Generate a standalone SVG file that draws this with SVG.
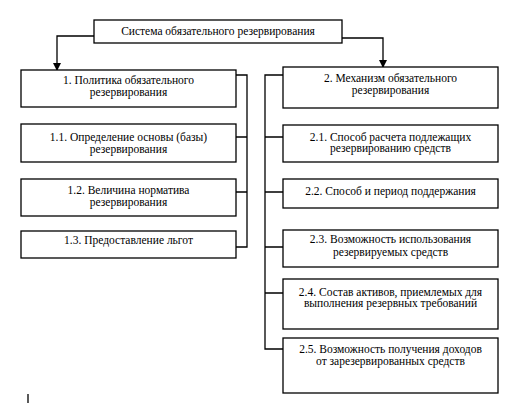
<svg xmlns="http://www.w3.org/2000/svg" width="518" height="403" viewBox="0 0 518 403">
<defs>
<marker id="arr" markerWidth="8" markerHeight="8" refX="7" refY="4" orient="auto" markerUnits="userSpaceOnUse">
<path d="M0,0 L8,4 L0,8 Z" fill="#000"/>
</marker>
<style>
.box{fill:#fff;stroke:#000;stroke-width:1.3}
.ln{fill:none;stroke:#000;stroke-width:1.3}
text{font-size:11.5px;fill:#000;text-anchor:middle}
</style>
</defs>
<rect width="518" height="403" fill="#fff"/>
<g id="connectors">
<path class="ln" d="M94,36 H57 V70" marker-end="url(#arr)"/>
<path class="ln" d="M342,38 H383 V67" marker-end="url(#arr)"/>
<path class="ln" d="M236,75 H247 V247 H236 M236,137 H247 M236,192 H247"/>
<path class="ln" d="M283,75 H265 V349 H283 M265,137 H283 M265,192 H283 M265,247 H283 M265,293 H283"/>
<path class="ln" d="M28,394 V403" stroke-width="2"/>
</g>
<g font-family="Liberation Serif, DejaVu Serif, serif">
<g id="root"><rect class="box" x="94" y="20" width="248" height="23"/><text x="218" y="35">Система обязательного резервирования</text></g>
<g id="n1"><rect class="box" x="21" y="70" width="215" height="37"/><text x="128.5" y="84">1. Политика обязательного</text><text x="128.5" y="96">резервирования</text></g>
<g id="n11"><rect class="box" x="21" y="124" width="215" height="38"/><text x="128.5" y="141">1.1. Определение основы (базы)</text><text x="128.5" y="153">резервирования</text></g>
<g id="n12"><rect class="box" x="21" y="179" width="215" height="37"/><text x="128.5" y="194">1.2. Величина норматива</text><text x="128.5" y="206">резервирования</text></g>
<g id="n13"><rect class="box" x="21" y="231" width="215" height="27"/><text x="128.5" y="244">1.3. Предоставление льгот</text></g>
<g id="n2"><rect class="box" x="283" y="67" width="215" height="41"/><text x="390.5" y="82">2. Механизм обязательного</text><text x="390.5" y="94">резервирования</text></g>
<g id="n21"><rect class="box" x="283" y="125" width="215" height="37"/><text x="390.5" y="141">2.1. Способ расчета подлежащих</text><text x="390.5" y="152">резервированию средств</text></g>
<g id="n22"><rect class="box" x="283" y="179" width="215" height="29"/><text x="390.5" y="195">2.2. Способ и период поддержания</text></g>
<g id="n23"><rect class="box" x="283" y="230" width="215" height="37"/><text x="390.5" y="243">2.3. Возможность использования</text><text x="390.5" y="256">резервируемых средств</text></g>
<g id="n24"><rect class="box" x="283" y="279" width="215" height="50"/><text x="390.5" y="296">2.4. Состав активов, приемлемых для</text><text x="390.5" y="307">выполнения резервных требований</text></g>
<g id="n25"><rect class="box" x="283" y="338" width="215" height="55"/><text x="390.5" y="353">2.5. Возможность получения доходов</text><text x="390.5" y="365">от зарезервированных средств</text></g>
</g>
</svg>
